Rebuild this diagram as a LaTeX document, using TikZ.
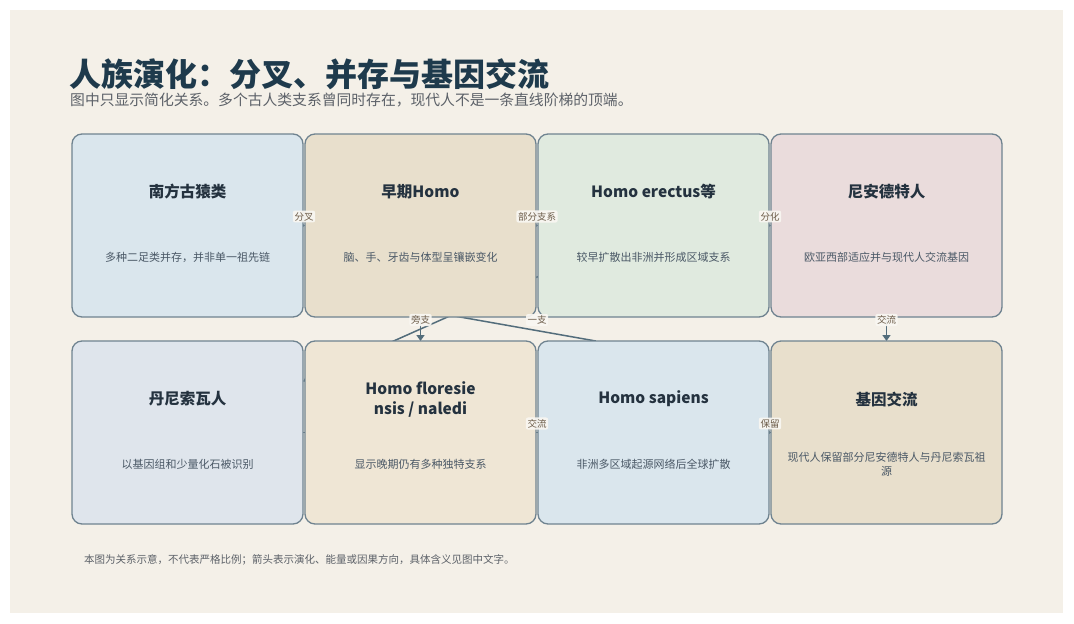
\documentclass[tikz,border=0pt]{standalone}
\usepackage{fontspec}
\setmainfont{Noto Sans CJK SC}
\usetikzlibrary{positioning,calc,arrows.meta,backgrounds}

\definecolor{paper}{HTML}{F4F0E8}
\definecolor{ink}{HTML}{1E3A4C}
\definecolor{subgray}{HTML}{5C6168}
\definecolor{frame}{HTML}{6F8390}
\definecolor{wire}{HTML}{536D7B}
\definecolor{boxtext}{HTML}{24323F}
\definecolor{desctext}{HTML}{4A5866}
\definecolor{tagtext}{HTML}{6B5B48}
\definecolor{austfill}{HTML}{DAE6ED}
\definecolor{earlyfill}{HTML}{E8DFCC}
\definecolor{erectfill}{HTML}{E0EADF}
\definecolor{neandfill}{HTML}{EADCDC}
\definecolor{denisfill}{HTML}{DFE5EC}
\definecolor{floresfill}{HTML}{EFE6D5}

\begin{document}
\begin{tikzpicture}[x=1pt,y=-1pt,
    taxon/.style={draw=frame, line width=1.3pt, rounded corners=10pt,
      minimum width=231pt, minimum height=183pt, inner sep=0pt, outer sep=0pt},
    ttl/.style={text=boxtext, align=center, font={\fontsize{15.5}{20}\selectfont\bfseries}},
    desc/.style={text=desctext, align=center, font={\fontsize{11}{14}\selectfont}},
    link/.style={draw=wire, line width=1.5pt, -{Triangle[length=6pt,width=8pt]}},
    tag/.style={text=tagtext, fill=paper!55!white, fill opacity=0.92, text opacity=1,
      inner sep=1.6pt, rounded corners=2pt, yshift=9pt,
      font={\fontsize{9.5}{10}\selectfont}}]
    \useasboundingbox (0,0) rectangle (1074,624);

    % Title and subtitle
    \node[anchor=base west, inner sep=0pt, text=ink,
      font={\fontsize{32}{36}\selectfont\bfseries}] (head) at (69,86)
      {人族演化：分叉、并存与基因交流};
    \node[anchor=base west, inner sep=0pt, text=subgray,
      font={\fontsize{14.8}{17}\selectfont}] (sub) at (70,105)
      {图中只显示简化关系。多个古人类支系曾同时存在，现代人不是一条直线阶梯的顶端。};

    % First row of lineages
    \node[taxon, fill=austfill] (aust) at (187.5,225.5) {};
    \node[taxon, fill=earlyfill, right=2pt of aust] (early) {};
    \node[taxon, fill=erectfill, right=2pt of early] (erectus) {};
    \node[taxon, fill=neandfill, right=2pt of erectus] (neander) {};
    % Second row
    \node[taxon, fill=denisfill, below=24pt of aust] (denis) {};
    \node[taxon, fill=floresfill, right=2pt of denis] (flores) {};
    \node[taxon, fill=austfill, right=2pt of flores] (sapiens) {};
    \node[taxon, fill=earlyfill, right=2pt of sapiens] (flow) {};

    % Box texts
    \node[ttl] at ([yshift=33.5pt]aust.center) {南方古猿类};
    \node[desc] at ([yshift=-31.5pt]aust.center) {多种二足类并存，并非单一祖先链};
    \node[ttl] at ([yshift=33.5pt]early.center) {早期Homo};
    \node[desc] at ([yshift=-31.5pt]early.center) {脑、手、牙齿与体型呈镶嵌变化};
    \node[ttl] at ([yshift=33.5pt]erectus.center) {Homo erectus等};
    \node[desc] at ([yshift=-31.5pt]erectus.center) {较早扩散出非洲并形成区域支系};
    \node[ttl] at ([yshift=33.5pt]neander.center) {尼安德特人};
    \node[desc] at ([yshift=-31.5pt]neander.center) {欧亚西部适应并与现代人交流基因};
    \node[ttl] at ([yshift=33.5pt]denis.center) {丹尼索瓦人};
    \node[desc] at ([yshift=-31.5pt]denis.center) {以基因组和少量化石被识别};
    \node[ttl] at ([yshift=33pt]flores.center) {Homo floresie\\nsis / naledi};
    \node[desc] at ([yshift=-31.5pt]flores.center) {显示晚期仍有多种独特支系};
    \node[ttl] at ([yshift=33.5pt]sapiens.center) {Homo sapiens};
    \node[desc] at ([yshift=-31.5pt]sapiens.center) {非洲多区域起源网络后全球扩散};
    \node[ttl] at ([yshift=33.5pt]flow.center) {基因交流};
    \node[desc] at ([yshift=-32pt]flow.center) {现代人保留部分尼安德特人与丹尼索瓦祖\\源};

    % Page, panel and connectors sit behind the boxes
    \begin{scope}[on background layer]
        \fill[white] (0,0) rectangle (1074,624);
        \fill[paper] (10,10) rectangle (1063,613);
        \draw[link] (aust) -- (early);
        \draw[link] (early) -- (erectus);
        \draw[link] (erectus) -- (neander);
        \draw[link] (neander) -- (flow);
        \draw[link] (early) -- (flores);
        \draw[link] (erectus) -- (denis);
        \draw[link, -] ($(early.south)+(0,-7)$) -- ($(sapiens.north west)!0.25!(sapiens.north east)$);
        \draw[link] (denis) -- (flow);
        \draw[link] (sapiens) -- (flow);
    \end{scope}

    % Connector labels
    \path (aust) -- node[tag] {分叉} (early);
    \path (early) -- node[tag] {部分支系} (erectus);
    \path (erectus) -- node[tag] {分化} (neander);
    \path (neander) -- node[tag] {交流} (flow);
    \path (early) -- node[tag] {旁支} (flores);
    \path (early) -- node[tag] {一支} (sapiens);
    \path (denis) -- node[tag] {交流} (flow);
    \path (sapiens) -- node[tag] {保留} (flow);

    % Footnote
    \node[anchor=base west, inner sep=0pt, text=subgray,
      font={\fontsize{10.5}{12}\selectfont}] (note) at (84,563)
      {本图为关系示意，不代表严格比例；箭头表示演化、能量或因果方向，具体含义见图中文字。};
\end{tikzpicture}
\end{document}
